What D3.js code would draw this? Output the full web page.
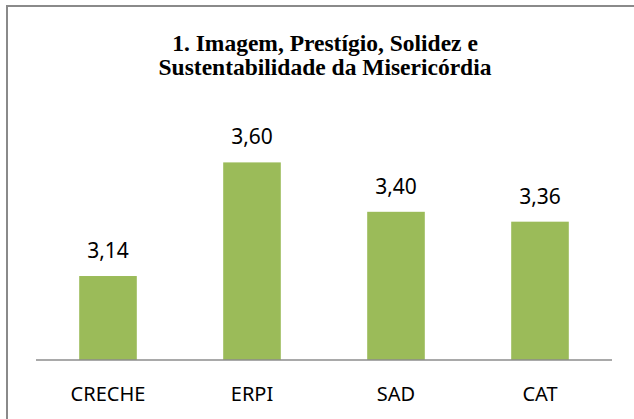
<!DOCTYPE html>
<html>
<head>
<meta charset="utf-8">
<script src="https://cdn.jsdelivr.net/npm/d3@7"></script>
<style>
  body { margin: 0; background: #fff; }
  svg { display: block; }
</style>
</head>
<body>
<div id="chart"></div>
<script>
// chart data
var categories = ["CRECHE", "ERPI", "SAD", "CAT"];
var values = [3.14, 3.60, 3.40, 3.36];
var titleLines = ["1. Imagem, Prestígio, Solidez e", "Sustentabilidade da Misericórdia"];

var width = 634, height = 419;

var svg = d3.select("#chart").append("svg")
    .attr("width", width)
    .attr("height", height);

// outer frame (right and bottom edges fall outside the picture)
svg.append("rect")
    .attr("x", 7).attr("y", 6)
    .attr("width", 640).attr("height", 430)
    .attr("fill", "#fff")
    .attr("stroke", "#8a8a8a")
    .attr("stroke-width", 2);

// title
svg.append("g").selectAll("text")
    .data(titleLines)
  .enter().append("text")
    .attr("x", 325)
    .attr("y", function(d, i) { return 51 + i * 24; })
    .attr("text-anchor", "middle")
    .style("font-family", "'Liberation Serif', serif")
    .style("font-weight", "bold")
    .style("font-size", "23.5px")
    .attr("fill", "#000")
    .text(function(d) { return d; });

// scales
var x = d3.scaleBand()
    .domain(categories)
    .range([36, 612])
    .paddingInner(0.6)
    .paddingOuter(0.3);

var y = d3.scaleLinear()
    .domain([2.8, 3.8])
    .range([360, 113]);

// bars
svg.append("g").selectAll("rect")
    .data(values)
  .enter().append("rect")
    .attr("x", function(d, i) { return x(categories[i]); })
    .attr("y", function(d) { return y(d); })
    .attr("width", x.bandwidth())
    .attr("height", function(d) { return y(2.8) - y(d); })
    .attr("fill", "#9bbb59");

// value labels
var fmt = function(v) { return d3.format(".2f")(v).replace(".", ","); };
svg.append("g").selectAll("text")
    .data(values)
  .enter().append("text")
    .attr("x", function(d, i) { return x(categories[i]) + x.bandwidth() / 2; })
    .attr("y", function(d) { return y(d) - 18; })
    .attr("text-anchor", "middle")
    .style("font-family", "'Noto Sans', sans-serif")
    .style("font-size", "21px")
    .attr("fill", "#000")
    .text(fmt);

// category axis
var axis = svg.append("g")
    .attr("transform", "translate(0," + y(2.8) + ")")
    .call(d3.axisBottom(x).tickSize(0).tickPadding(0));

axis.select(".domain")
    .attr("d", "M36,0H612")
    .attr("stroke", "#8c8c8c")
    .attr("stroke-width", 1.5);

axis.selectAll("text")
    .attr("dy", 0)
    .attr("y", 40.5)
    .style("font-family", "'Noto Sans', sans-serif")
    .style("font-size", "20px")
    .attr("fill", "#000");
</script>
</body>
</html>
